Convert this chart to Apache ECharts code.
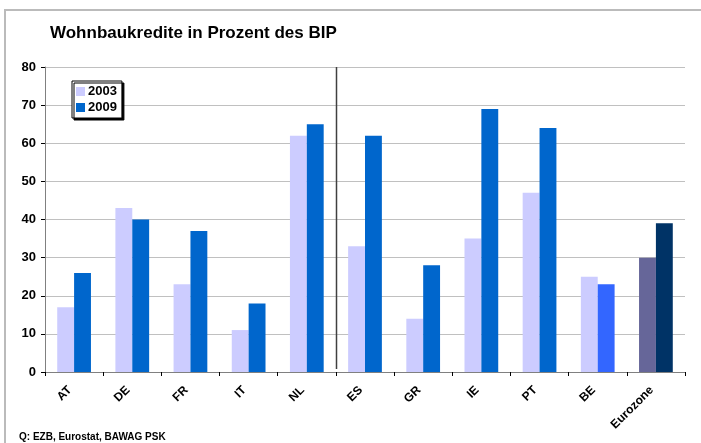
<!DOCTYPE html>
<html>
	<head>
		<meta charset="utf-8">
		<title>Wohnbaukredite in Prozent des BIP</title>
		<script src="https://cdn.jsdelivr.net/npm/echarts@6/dist/echarts.min.js"></script>
		<style type="text/css">
			html, body { margin: 0; padding: 0; background: #ffffff; }
			#main { width: 701px; height: 443px; }
		</style>
	</head>
	<body>
		<div id="main"></div>
	</body>
</html>

<script type="text/javascript">
	// 数据
	var categories = ['AT', 'DE', 'FR', 'IT', 'NL', 'ES', 'GR', 'IE', 'PT', 'BE', 'Eurozone'];
	var values2003 = [17, 43, 23, 11, 62, 33, 14, 35, 47, 25, 30];
	var values2009 = [26, 40, 37, 18, 65, 62, 28, 69, 64, 23, 39];
	var seriesNames = ['2003', '2009'];
	var yTicks = [0, 10, 20, 30, 40, 50, 60, 70, 80];
	// Trennlinie zwischen NL und ES
	var separatorAfter = 'NL';

	var font = 'Arial, "Liberation Sans", sans-serif';

	// BE und Eurozone haben eigene Farben
	var special2003 = { 'Eurozone': '#666699' };
	var special2009 = { 'BE': '#3366FF', 'Eurozone': '#003366' };

	function buildData(values, special) {
		return values.map(function (v, i) {
			var c = special[categories[i]];
			return c ? { value: v, itemStyle: { color: c } } : v;
		});
	}

	var myChart = echarts.init(document.getElementById('main'));

	var baseGraphic = [
		{
			type: 'rect',
			shape: { x: 5, y: 10, width: 720, height: 460 },
			style: { fill: 'none', stroke: '#BBBBBB', lineWidth: 2 },
			silent: true
		},
		{
			type: 'text',
			left: 19,
			top: 432,
			style: { text: 'Q: EZB, Eurostat, BAWAG PSK', font: 'bold 10px ' + font, fill: '#000' }
		}
	];

	var option = {
		animation: false,
		textStyle: { fontFamily: font },
		title: {
			text: 'Wohnbaukredite in Prozent des BIP',
			left: 45,
			top: 20,
			textStyle: { fontFamily: font, fontSize: 17, fontWeight: 'bold', color: '#000' }
		},
		graphic: baseGraphic,
		legend: {
			orient: 'vertical',
			left: 72,
			top: 81,
			itemWidth: 9,
			itemHeight: 9,
			itemGap: 3,
			padding: [4, 5, 4, 4],
			icon: 'rect',
			backgroundColor: '#fff',
			borderColor: '#000',
			borderWidth: 1,
			shadowColor: '#000',
			shadowBlur: 0,
			shadowOffsetX: 2,
			shadowOffsetY: 2,
			textStyle: { fontFamily: font, fontSize: 13, fontWeight: 'bold', color: '#000', padding: [0, 0, 0, -2] },
			data: seriesNames
		},
		grid: { left: 45, right: 16, top: 67, bottom: 71 },
		xAxis: {
			type: 'category',
			data: categories,
			axisLine: { lineStyle: { color: '#808080', width: 1 } },
			axisTick: { show: true, length: 4, lineStyle: { color: '#000' } },
			axisLabel: {
				rotate: 45,
				margin: 12,
				padding: [0, 6, 0, 0],
				fontFamily: font,
				fontSize: 12,
				fontWeight: 'bold',
				color: '#000'
			}
		},
		yAxis: {
			type: 'value',
			min: yTicks[0],
			max: yTicks[yTicks.length - 1],
			interval: 10,
			axisLine: { show: true, lineStyle: { color: '#808080' } },
			axisTick: { show: true, length: 4, lineStyle: { color: '#000' } },
			axisLabel: { fontFamily: font, fontSize: 13, fontWeight: 'bold', color: '#000', margin: 9 },
			splitLine: { lineStyle: { color: '#C0C0C0', width: 1 } }
		},
		series: [
			{
				name: seriesNames[0],
				type: 'bar',
				data: buildData(values2003, special2003),
				itemStyle: { color: '#CCCCFF' },
				barGap: '0%',
				barCategoryGap: '42%'
			},
			{
				name: seriesNames[1],
				type: 'bar',
				data: buildData(values2009, special2009),
				itemStyle: { color: '#0066CC' },
				barGap: '0%',
				barCategoryGap: '42%'
			}
		]
	};

	myChart.setOption(option);

	// Trennlinie aus der Achse berechnen (Mitte zwischen NL und ES)
	var idx = categories.indexOf(separatorAfter);
	var xa = myChart.convertToPixel({ gridIndex: 0 }, [idx, yTicks[yTicks.length - 1]]);
	var xb = myChart.convertToPixel({ gridIndex: 0 }, [idx + 1, yTicks[0]]);
	var sepX = Math.round((xa[0] + xb[0]) / 2) + 0.5;
	myChart.setOption({
		graphic: baseGraphic.concat([{
			type: 'line',
			shape: { x1: sepX, y1: xa[1], x2: sepX, y2: xb[1] - 3 },
			style: { stroke: '#404040', lineWidth: 1.5 },
			silent: true,
			z: 10
		}])
	});
</script>
